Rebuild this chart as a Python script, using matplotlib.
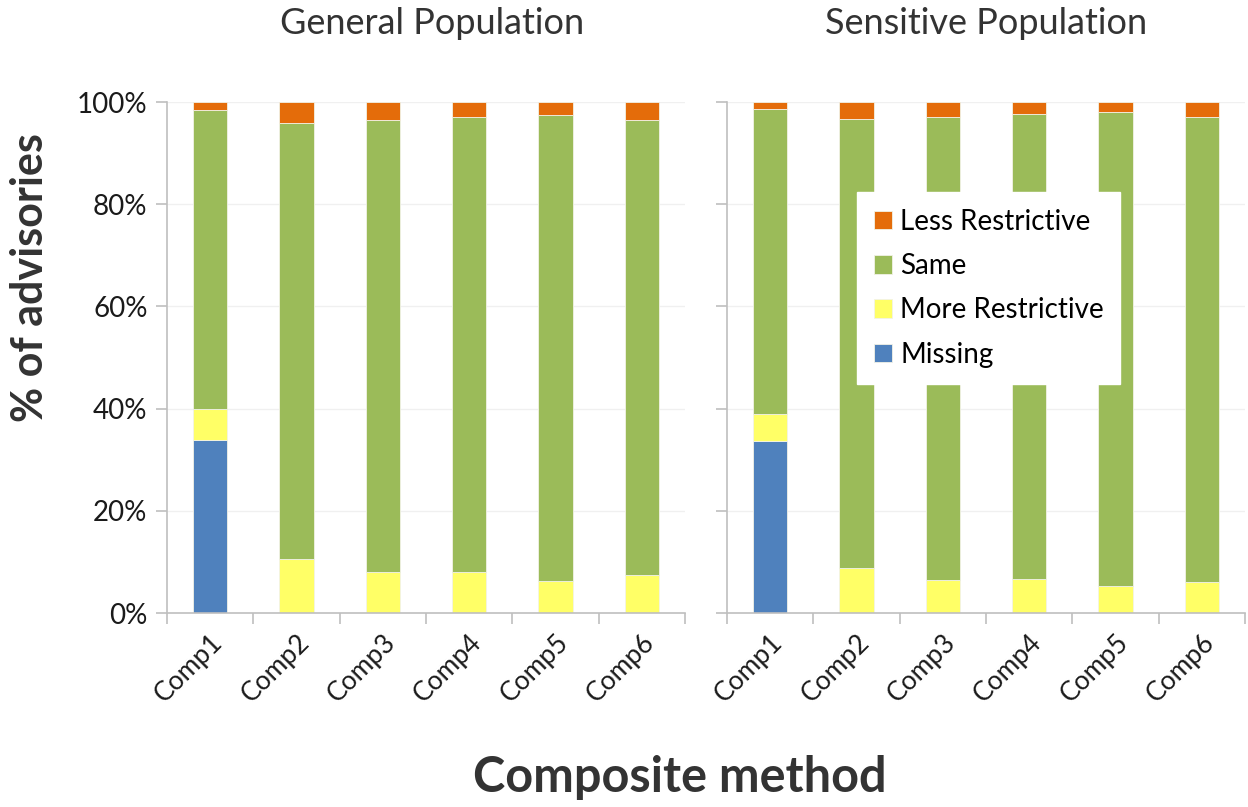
import numpy as np
import matplotlib.pyplot as plt
from matplotlib.ticker import PercentFormatter

plt.rcParams['font.family'] = ['Lato', 'DejaVu Sans']

# Data (percent of advisories)
methods = ['Comp1', 'Comp2', 'Comp3', 'Comp4', 'Comp5', 'Comp6']
series = ['Missing', 'More Restrictive', 'Same', 'Less Restrictive']
colors = ['#4F81BD', '#FFFF66', '#9BBB59', '#E46C0A']

gen_missing = [33.8, 0, 0, 0, 0, 0]
gen_more = [6.2, 10.6, 8.0, 8.0, 6.2, 7.4]
gen_same = [58.5, 85.2, 88.4, 89.1, 91.3, 89.1]
gen_less = [1.5, 4.2, 3.6, 2.9, 2.5, 3.5]

sen_missing = [33.7, 0, 0, 0, 0, 0]
sen_more = [5.3, 8.8, 6.5, 6.6, 5.2, 6.1]
sen_same = [59.6, 87.8, 90.6, 91.0, 92.8, 91.0]
sen_less = [1.4, 3.4, 2.9, 2.4, 2.0, 2.9]

panels = [('General Population', [gen_missing, gen_more, gen_same, gen_less]),
          ('Sensitive Population', [sen_missing, sen_more, sen_same, sen_less])]

W, H = 1248, 807
fig = plt.figure(figsize=(W / 100, H / 100), dpi=100)
lefts = [167, 727]
title_x = [432, 986]
axes = []
x = np.arange(len(methods))

for i, (title, data) in enumerate(panels):
    ax = fig.add_axes([lefts[i] / W, 194 / H, 518 / W, 511 / H])
    bottom = np.zeros(len(methods))
    for vals, name, c in zip(data, series, colors):
        ax.bar(x, vals, width=0.4, bottom=bottom, color=c, label=name,
               edgecolor='#f2f2e6', linewidth=0.6, zorder=2)
        bottom += np.array(vals)
    ax.set_xlim(-0.5, len(methods) - 0.5)
    ax.set_ylim(0, 100)
    ax.set_yticks(np.arange(0, 101, 20))
    ax.yaxis.set_major_formatter(PercentFormatter(decimals=0))
    ax.yaxis.grid(True, color='#f0f0f0', linewidth=1, zorder=0)
    ax.set_axisbelow(True)
    for s in ['top', 'right']:
        ax.spines[s].set_visible(False)
    for s in ['left', 'bottom']:
        ax.spines[s].set_color('#bfbfbf')
        ax.spines[s].set_linewidth(1.2)
    # category boundary ticks
    ax.set_xticks(np.arange(-0.5, len(methods)), minor=False)
    ax.set_xticklabels([])
    ax.set_xticks(x, minor=True)
    ax.set_xticklabels(methods, minor=True, rotation=45, ha='right',
                       rotation_mode='anchor', fontsize=19, color='#1a1a1a')
    ax.tick_params(axis='x', which='major', length=8, color='#bfbfbf', width=1.2)
    ax.tick_params(axis='x', which='minor', length=0, pad=12)
    ax.tick_params(axis='y', length=8, color='#bfbfbf', width=1.2,
                   labelsize=20, labelcolor='#1a1a1a', pad=6)
    if i == 1:
        ax.tick_params(axis='y', labelleft=False)
    fig.text(title_x[i] / W, 1 - 24 / H, title, fontsize=26, color='#333333',
             ha='center', va='center')
    axes.append(ax)

fig.text(30 / W, 1 - 278 / H, '% of advisories', fontsize=31, fontweight='bold',
         color='#333333', ha='center', va='center', rotation=90)
fig.text(680 / W, 1 - 778 / H, 'Composite method', fontsize=35, fontweight='bold',
         color='#333333', ha='center', va='center')

h, l = axes[1].get_legend_handles_labels()
leg = axes[1].legend(h[::-1], l[::-1], loc='upper left',
                     bbox_to_anchor=(857 / W, 1 - 192 / H),
                     bbox_transform=fig.transFigure, fontsize=20,
                     frameon=True, fancybox=False, edgecolor='white',
                     framealpha=1, handlelength=0.65, handleheight=0.65,
                     handletextpad=0.3, labelspacing=0.66,
                     borderpad=0.6, borderaxespad=0)
leg.set_zorder(5)

plt.savefig('out.png', dpi=100)
